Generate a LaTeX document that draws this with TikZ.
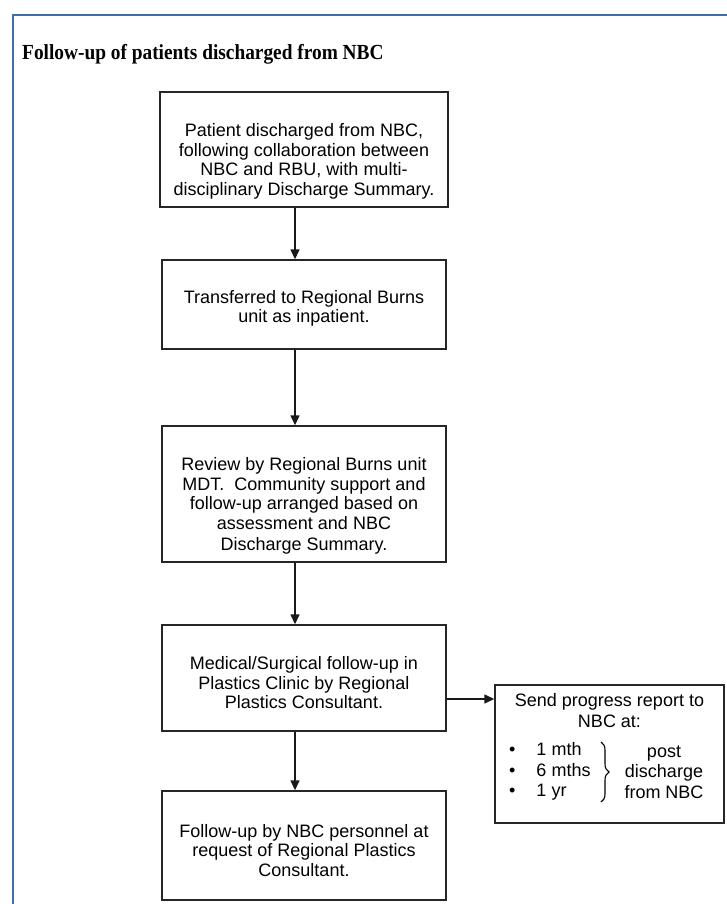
\documentclass[tikz,border=0pt]{standalone}
\usepackage{fontspec}
\setmainfont{Liberation Serif}
\newfontfamily\flowfont{Liberation Sans}
\usepackage{xcolor}
\usepackage{graphicx}
\usetikzlibrary{arrows.meta,decorations.pathreplacing}

\definecolor{frameblue}{RGB}{68,110,166}
\newcommand{\boxpad}[1]{\rule{0pt}{#1}}

\begin{document}
\begin{tikzpicture}[x=1pt,y=1pt,yscale=-1,xscale=1,
  flowbox/.style={draw=black!85, line width=1.4pt, align=center, inner sep=0pt, minimum width=284pt, font=\flowfont\fontsize{18}{19.5}\selectfont},
  flowtext/.style={inner sep=0pt, align=center, font=\flowfont\fontsize{18}{20.5}\selectfont},
  flowarrow/.style={draw=black!90, line width=1.4pt, -{Triangle[length=10pt,width=9pt]}}]

\useasboundingbox (0,0) rectangle (727,904);

\draw [frameblue, line width=2.5pt] (13,15) rectangle (760,940);

\node [anchor=base west, inner sep=0pt, font=\bfseries\fontsize{21.5}{24}\selectfont] (title) at (22,60) {\scalebox{0.9}[1]{Follow-up of patients discharged from NBC}};


\node [flowbox, minimum width=288pt, minimum height=115pt] (discharged) at (304,149.5) {\boxpad{37pt}Patient discharged from NBC,\\following collaboration between\\NBC and RBU, with multi-\\disciplinary Discharge Summary.};

\node [flowbox, minimum height=89pt] (transfer) at (304,304.5) {\boxpad{21pt}Transferred to Regional Burns\\unit as inpatient.};

\node [flowbox, minimum height=136pt] (review) at (304,494) {\boxpad{37pt}Review by Regional Burns unit\\MDT.\ \ Community support and\\follow-up arranged based on\\assessment and NBC\\[2pt]Discharge Summary.};

\node [flowbox, minimum height=106pt] (clinic) at (304,678) {\boxpad{23pt}Medical/Surgical follow-up in\\Plastics Clinic by Regional\\Plastics Consultant.};

\node [flowbox, minimum height=109pt] (personnel) at (304,845.5) {\boxpad{23pt}Follow-up by NBC personnel at\\request of Regional Plastics\\Consultant.};


\node [flowbox, minimum width=229pt, minimum height=138pt] (report) at (609.5,754) {};

\node [flowtext, anchor=north] (reporthead) at ([yshift=9pt]report.north) {Send progress report to\\NBC at:};

\node [flowtext, anchor=west] (reportlist) at (509,772) {\begin{tabular}{@{}l@{\hspace{21pt}}l@{}}\textbullet & 1 mth\\ \textbullet & 6 mths\\ \textbullet & 1 yr\end{tabular}};

\node [flowtext] (reportpost) at (664,772) {post\\discharge\\from NBC};

\coordinate (bracetop) at (601,742);
\coordinate (bracebot) at (601,802);
\draw [line width=1.1pt, decorate, decoration={brace, amplitude=8pt}] (bracetop) -- (bracebot);


\draw [flowarrow] ([xshift=-9pt]discharged.south) -- ([xshift=-9pt]transfer.north);

\draw [flowarrow] ([xshift=-9pt]transfer.south) -- ([xshift=-9pt]review.north);

\draw [flowarrow] ([xshift=-9pt]review.south) -- ([xshift=-9pt]clinic.north);

\draw [flowarrow] ([xshift=-9pt]clinic.south) -- ([xshift=-9pt]personnel.north);

\coordinate (reportin) at ([yshift=21pt]clinic.east);
\draw [flowarrow] (reportin) -- (reportin -| report.west);

\end{tikzpicture}
\end{document}
